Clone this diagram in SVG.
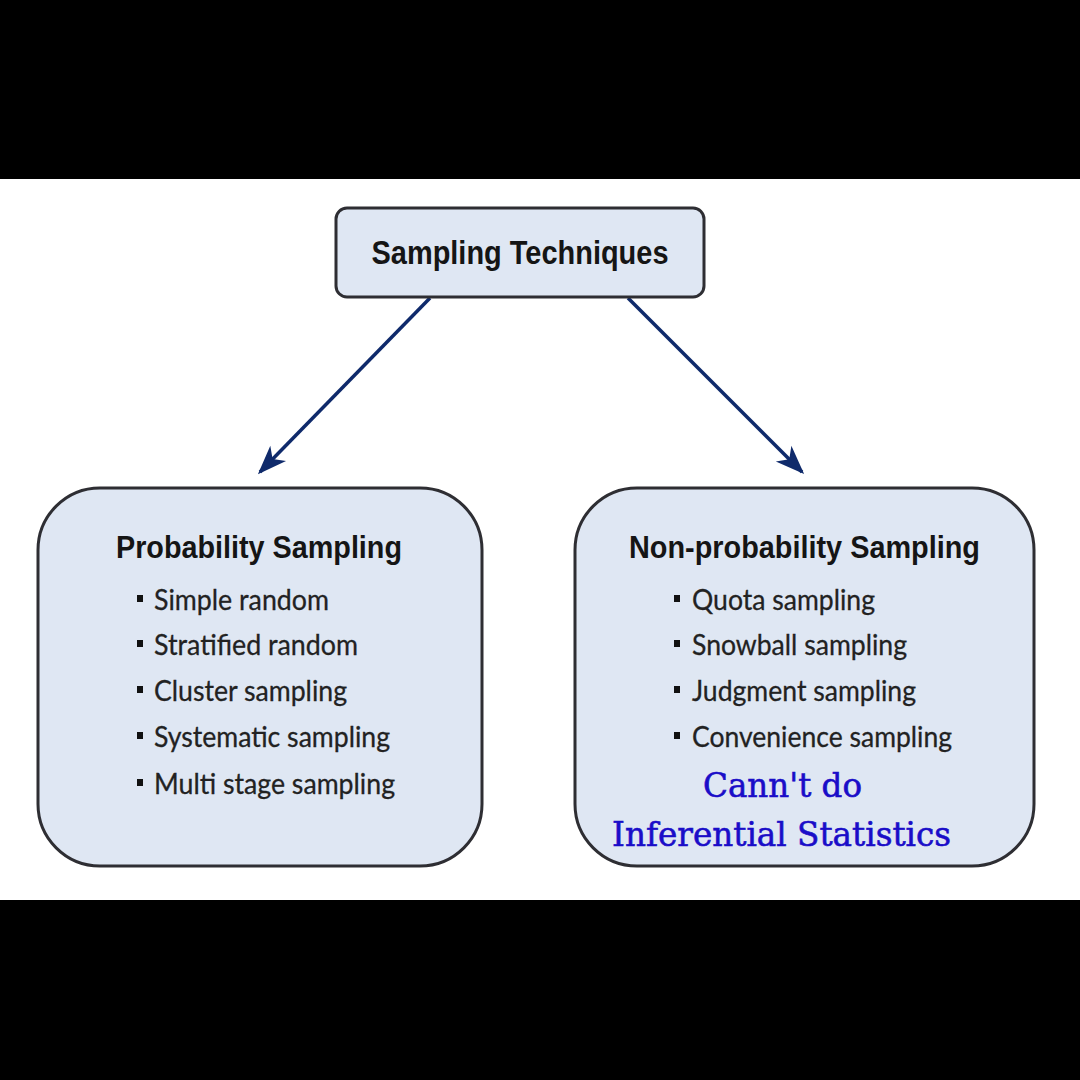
<svg xmlns="http://www.w3.org/2000/svg" width="1080" height="1080" viewBox="0 0 1080 1080">
<defs>
<style>
.box{fill:#dfe7f3;stroke:#2e2e33;stroke-width:3}
.title{font-family:"Liberation Sans",Arial,sans-serif;font-weight:bold;fill:#151515}
.item{font-family:Lato,"Open Sans","Liberation Sans",sans-serif;font-size:29px;fill:#222;stroke:#222;stroke-width:0.3}
.note{font-family:"DejaVu Serif","Liberation Serif",serif;font-size:34px;fill:#1a0dc8;stroke:#1a0dc8;stroke-width:0.6}
.conn{stroke:#0f2a6b;stroke-width:3.5;fill:none}
.bul{fill:#111}
</style>
<marker id="ah" viewBox="0 0 30 24" refX="27" refY="12" markerWidth="30" markerHeight="24" markerUnits="userSpaceOnUse" orient="auto">
<path d="M1,1 L30,12 L1,23 L9,12 Z" fill="#0f2a6b"/>
</marker>
</defs>
<rect x="0" y="0" width="1080" height="1080" fill="#ffffff"/>
<rect x="0" y="0" width="1080" height="179" fill="#000"/>
<rect x="0" y="900" width="1080" height="180" fill="#000"/>
<g id="connectors">
<path class="conn" d="M430,298 L260,472" marker-end="url(#ah)"/>
<path class="conn" d="M628,298 L802,472" marker-end="url(#ah)"/>
</g>
<g id="node-root">
<rect class="box" x="336" y="208" width="368" height="89" rx="11"/>
<text class="title" x="520" y="264" font-size="33" text-anchor="middle" textLength="297" lengthAdjust="spacingAndGlyphs">Sampling Techniques</text>
</g>
<g id="node-probability">
<rect class="box" x="38" y="488" width="444" height="378" rx="62"/>
<text class="title" x="116" y="558" font-size="31" textLength="286" lengthAdjust="spacingAndGlyphs">Probability Sampling</text>
<rect class="bul" x="137" y="595" width="6" height="7"/>
<text class="item" x="154" y="610" textLength="175" lengthAdjust="spacingAndGlyphs">Simple random</text>
<rect class="bul" x="137" y="640" width="6" height="7"/>
<text class="item" x="154" y="655" textLength="204" lengthAdjust="spacingAndGlyphs">Stratified random</text>
<rect class="bul" x="137" y="686" width="6" height="7"/>
<text class="item" x="154" y="701" textLength="193" lengthAdjust="spacingAndGlyphs">Cluster sampling</text>
<rect class="bul" x="137" y="732" width="6" height="7"/>
<text class="item" x="154" y="747" textLength="236" lengthAdjust="spacingAndGlyphs">Systematic sampling</text>
<rect class="bul" x="137" y="779" width="6" height="7"/>
<text class="item" x="154" y="794" textLength="241" lengthAdjust="spacingAndGlyphs">Multi stage sampling</text>
</g>
<g id="node-nonprobability">
<rect class="box" x="575" y="488" width="459" height="378" rx="62"/>
<text class="title" x="629" y="558" font-size="31" textLength="351" lengthAdjust="spacingAndGlyphs">Non-probability Sampling</text>
<rect class="bul" x="674" y="595" width="6" height="7"/>
<text class="item" x="692" y="610" textLength="183" lengthAdjust="spacingAndGlyphs">Quota sampling</text>
<rect class="bul" x="674" y="640" width="6" height="7"/>
<text class="item" x="692" y="655" textLength="215" lengthAdjust="spacingAndGlyphs">Snowball sampling</text>
<rect class="bul" x="674" y="686" width="6" height="7"/>
<text class="item" x="692" y="701" textLength="224" lengthAdjust="spacingAndGlyphs">Judgment sampling</text>
<rect class="bul" x="674" y="732" width="6" height="7"/>
<text class="item" x="692" y="747" textLength="260" lengthAdjust="spacingAndGlyphs">Convenience sampling</text>
<text class="note" x="703" y="797" textLength="159" lengthAdjust="spacingAndGlyphs">Cann't do</text>
<text class="note" x="612" y="846" textLength="339" lengthAdjust="spacingAndGlyphs">Inferential Statistics</text>
</g>
</svg>
